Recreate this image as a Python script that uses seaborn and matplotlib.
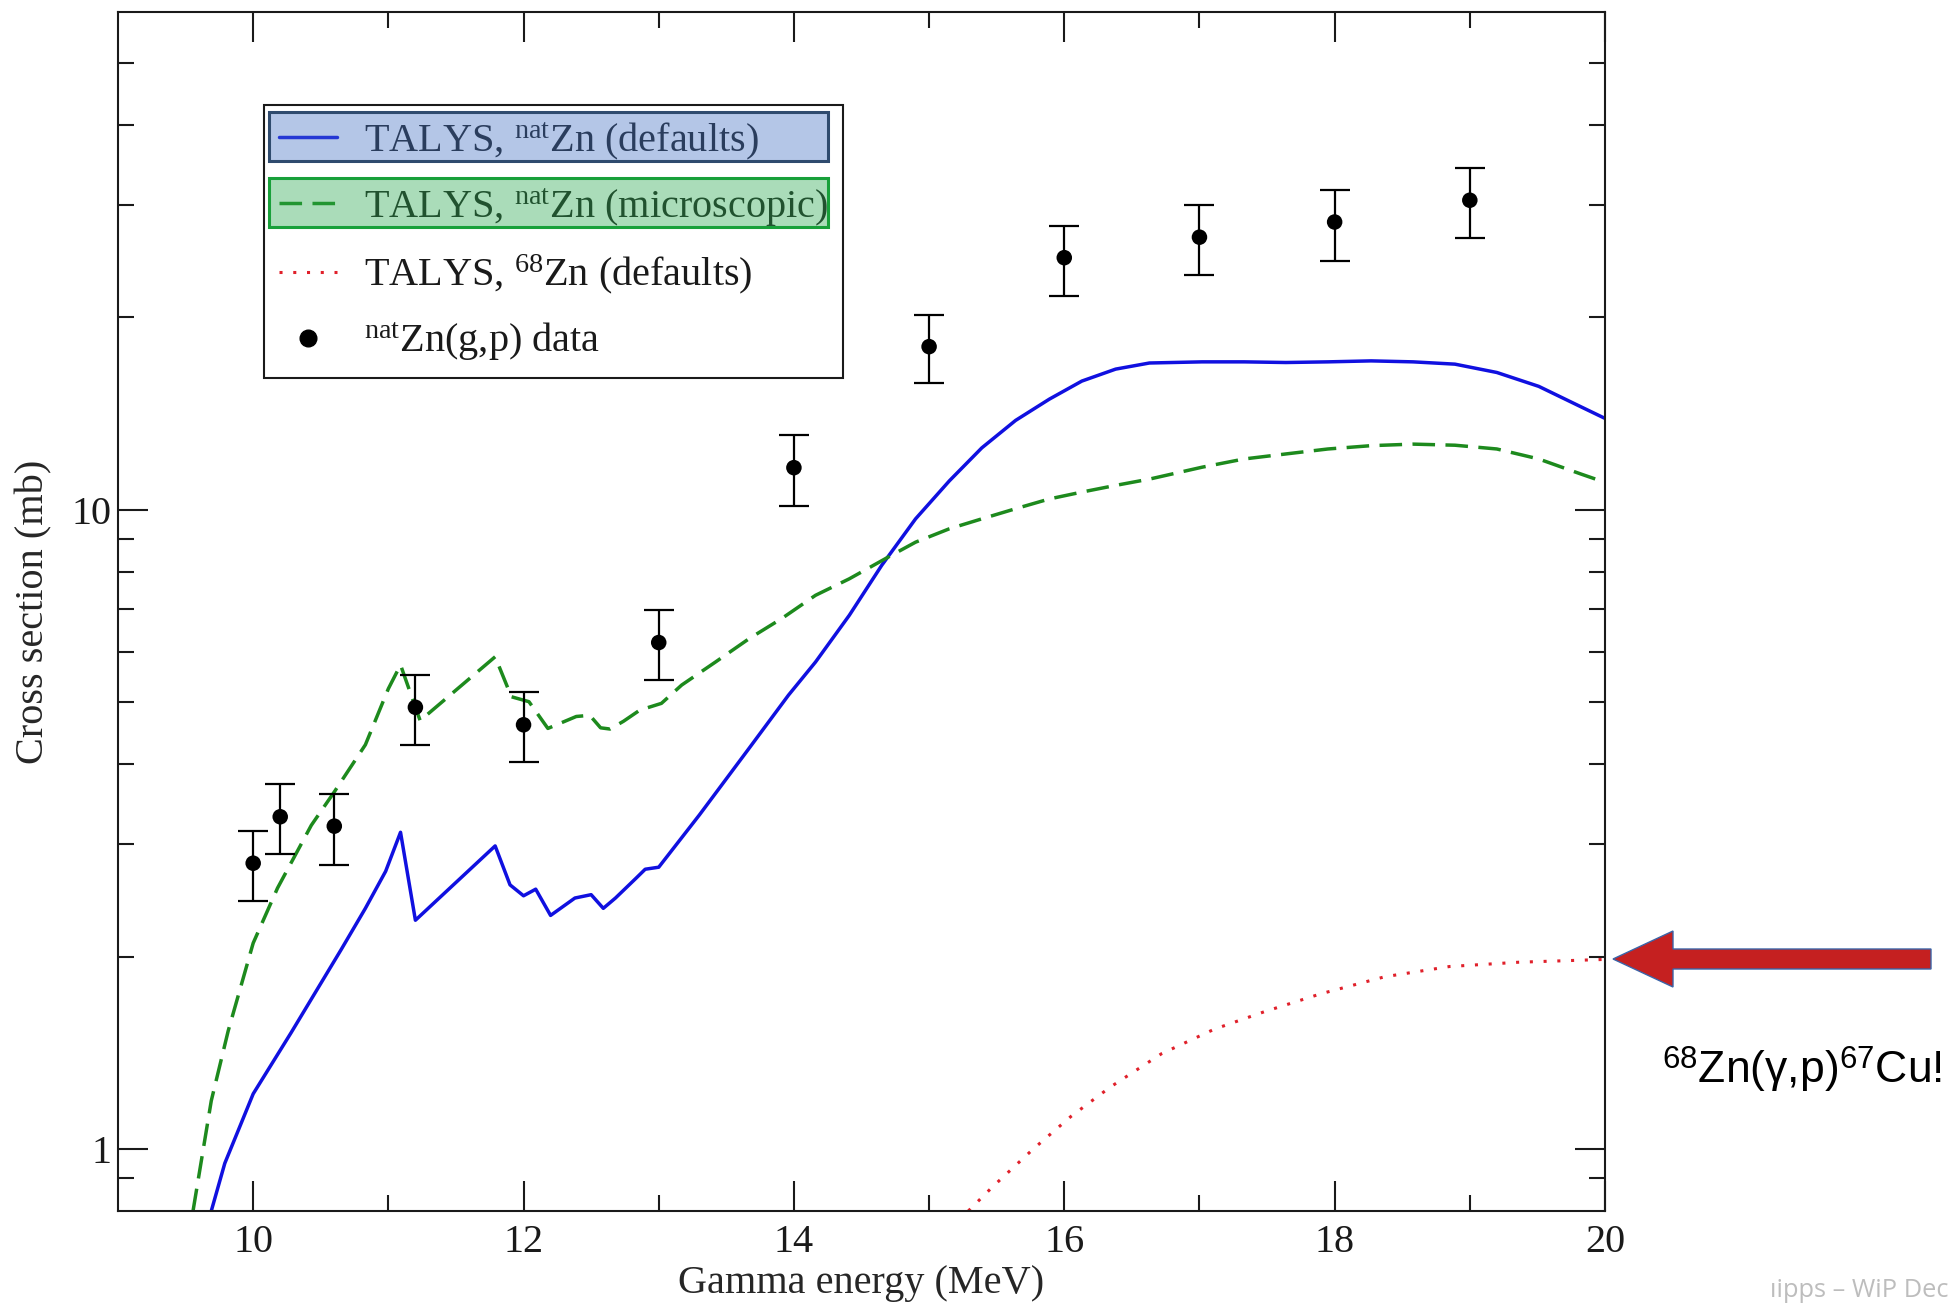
import numpy as np
import pandas as pd
import matplotlib
matplotlib.use("Agg")
import matplotlib.pyplot as plt
import seaborn as sns
from matplotlib.lines import Line2D
from matplotlib.patches import Rectangle, Polygon
from matplotlib.ticker import NullFormatter

# ---------------- data ----------------
blue_E = [9.69, 9.79, 9.89, 10.0, 10.28, 10.65, 10.83, 10.98, 11.09, 11.20, 11.79,
          11.90, 12.0, 12.09, 12.20, 12.38, 12.50, 12.59, 12.68, 12.83, 12.90, 13.0,
          13.30, 13.67, 13.96, 14.16, 14.41, 14.65, 14.90, 15.15, 15.39, 15.64, 15.89,
          16.13, 16.38, 16.63, 17.02, 17.33, 17.64, 17.95, 18.27, 18.58, 18.89, 19.20,
          19.51, 19.82, 20.0]
blue_xs = [0.80, 0.95, 1.07, 1.22, 1.52, 2.05, 2.38, 2.72, 3.13, 2.28, 2.98,
           2.59, 2.49, 2.55, 2.32, 2.47, 2.50, 2.38, 2.47, 2.65, 2.74, 2.76,
           3.33, 4.24, 5.13, 5.78, 6.84, 8.19, 9.68, 11.1, 12.5, 13.8, 14.9,
           15.9, 16.6, 16.97, 17.04, 17.04, 17.0, 17.04, 17.1, 17.04, 16.9, 16.4,
           15.6, 14.5, 13.9]

green_E = [9.555, 9.69, 9.815, 10.0, 10.18, 10.43, 10.60, 10.83, 11.00, 11.09, 11.235,
           11.79, 11.91, 12.04, 12.18, 12.39, 12.49, 12.57, 12.64, 12.74, 12.86, 13.02,
           13.17, 13.42, 13.67, 13.91, 14.16, 14.41, 14.70, 14.90, 15.15, 15.39, 15.64,
           15.89, 16.13, 16.38, 16.63, 17.02, 17.33, 17.64, 17.95, 18.27, 18.58, 18.89,
           19.20, 19.51, 19.82, 20.0]
green_xs = [0.80, 1.19, 1.53, 2.10, 2.56, 3.21, 3.62, 4.29, 5.25, 5.72, 4.68,
            5.89, 5.10, 5.01, 4.55, 4.75, 4.77, 4.56, 4.54, 4.67, 4.86, 4.98,
            5.32, 5.78, 6.29, 6.76, 7.35, 7.80, 8.44, 8.90, 9.34, 9.68, 10.04,
            10.4, 10.66, 10.92, 11.17, 11.66, 12.01, 12.23, 12.45, 12.60, 12.67, 12.62,
            12.45, 12.01, 11.38, 11.04]

red_E = [15.29, 15.47, 15.77, 16.05, 16.34, 16.72, 17.11, 17.48, 17.90, 18.37, 18.85, 19.36, 20.0]
red_xs = [0.80, 0.873, 1.00, 1.125, 1.25, 1.41, 1.54, 1.64, 1.75, 1.86, 1.93, 1.96, 1.98]

data_E = [10.0, 10.2, 10.6, 11.2, 12.0, 13.0, 14.0, 15.0, 16.0, 17.0, 18.0, 19.0]
data_xs = [2.80, 3.31, 3.20, 4.91, 4.61, 6.20, 11.64, 18.0, 24.8, 26.7, 28.2, 30.5]
data_hi = [3.14, 3.72, 3.59, 5.52, 5.19, 6.96, 13.1, 20.2, 27.8, 30.0, 31.7, 34.3]
data_lo = [2.44, 2.89, 2.78, 4.28, 4.03, 5.42, 10.13, 15.8, 21.6, 23.3, 24.5, 26.6]

x_major = [10, 12, 14, 16, 18, 20]
x_minor = [11, 13, 15, 17, 19]
y_major = [1, 10]
y_major_labels = ["1", "10"]
y_minor = [0.9, 2, 3, 4, 5, 6, 7, 8, 9, 20, 30, 40, 50]

legend_labels = [
    r"TALYS, $^{\mathrm{nat}}$Zn (defaults)",
    r"TALYS, $^{\mathrm{nat}}$Zn (microscopic)",
    r"TALYS, $^{\mathrm{68}}$Zn (defaults)",
    r"$^{\mathrm{nat}}$Zn(g,p) data",
]
x_label = "Gamma energy (MeV)"
y_label = "Cross section (mb)"
note_text = r"$^{\mathsf{68}}$Zn(γ,p)$^{\mathsf{67}}$Cu!"
footer_text = "ıipps – WiP Dec"

# ---------------- style ----------------
sns.set_theme(style="ticks")
plt.rcParams.update({
    "font.family": ["Liberation Serif", "DejaVu Serif"],
    "mathtext.fontset": "custom",
    "mathtext.rm": "Liberation Serif",
    "mathtext.it": "Liberation Serif:italic",
    "mathtext.bf": "Liberation Serif:bold",
    "mathtext.sf": "Liberation Sans",
    "axes.linewidth": 1.5,
    "axes.edgecolor": "#1a1a1a",
    "text.color": "#1a1a1a",
})

FS = 29
BLUE = "#1010e0"
GREEN = "#1d8a1d"
RED = "#e0202a"

W, H = 1951, 1307
fig = plt.figure(figsize=(W / 100, H / 100), dpi=100)
fig.patch.set_facecolor("white")
ax = fig.add_axes([118 / W, 1 - 1211 / H, (1605 - 118) / W, (1211 - 12.4) / H])

df_blue = pd.DataFrame({"E": blue_E, "xs": blue_xs})
df_green = pd.DataFrame({"E": green_E, "xs": green_xs})
df_red = pd.DataFrame({"E": red_E, "xs": red_xs})
df_data = pd.DataFrame({"E": data_E, "xs": data_xs})

sns.lineplot(data=df_blue, x="E", y="xs", ax=ax, color=BLUE, lw=2.5,
             sort=False, estimator=None)
sns.lineplot(data=df_green, x="E", y="xs", ax=ax, color=GREEN, lw=2.5,
             linestyle=(0, (6.5, 3.0)), sort=False, estimator=None)
sns.lineplot(data=df_red, x="E", y="xs", ax=ax, color=RED, lw=2.2,
             linestyle=(0, (1, 3.5)), sort=False, estimator=None)

yerr = [np.array(data_xs) - np.array(data_lo), np.array(data_hi) - np.array(data_xs)]
ax.errorbar(data_E, data_xs, yerr=yerr, fmt="none", ecolor="black",
            elinewidth=1.6, capsize=11, capthick=1.6, zorder=4)
sns.scatterplot(data=df_data, x="E", y="xs", ax=ax, color="black", s=125,
                edgecolor="none", zorder=5)

ax.set_yscale("log")
ax.set_xlim(9, 20)
ax.set_ylim(0.8, 60)
ax.set_xticks(x_major)
ax.set_xticks(x_minor, minor=True)
ax.set_yticks(y_major, labels=y_major_labels)
ax.set_yticks(y_minor, minor=True)
ax.yaxis.set_minor_formatter(NullFormatter())
ax.tick_params(which="both", direction="in", top=True, right=True,
               color="#1a1a1a", labelsize=FS, labelcolor="#1a1a1a")
ax.tick_params(which="major", length=21.6, width=1.5)
ax.tick_params(axis="x", which="major", pad=9)
ax.tick_params(axis="y", which="major", pad=5)
ax.tick_params(which="minor", length=11.5, width=1.5)
for s in ax.spines.values():
    s.set_visible(True)
    s.set_linewidth(1.5)

ax.set_xlabel(x_label, fontsize=FS)
ax.set_ylabel(y_label, fontsize=FS)
ax.xaxis.set_label_coords(0.5, -0.045)
ax.yaxis.set_label_coords(-0.0440, 0.5)

# ---------------- legend ----------------
handles = [
    Line2D([], [], color=BLUE, lw=2.5),
    Line2D([], [], color=GREEN, lw=2.5, linestyle=(0, (6.5, 3.0))),
    Line2D([], [], color=RED, lw=2.2, linestyle=(0, (1, 3.5))),
    Line2D([], [], color="black", marker="o", markersize=12, linestyle="none"),
]
leg = ax.legend(handles, legend_labels, loc="upper left",
                bbox_to_anchor=(0.0979, 0.9227), borderaxespad=0,
                fontsize=FS, frameon=True, fancybox=False, framealpha=1,
                edgecolor="#1a1a1a", facecolor="white",
                handlelength=1.45, handletextpad=0.66, borderpad=0.38,
                labelspacing=0.60)
leg.get_frame().set_linewidth(1.5)

fig.canvas.draw()
rend = fig.canvas.get_renderer()
fb = leg.get_frame().get_window_extent(rend)
inv = fig.transFigure.inverted()
leg_lines = leg.get_lines()
highlight = [((68 / 255, 114 / 255, 196 / 255, 0.40), "#2f4b6e"),
             ((44 / 255, 168 / 255, 80 / 255, 0.40), "#18a03a")]
for i, (fc, ec) in enumerate(highlight):
    hb = leg_lines[i].get_window_extent(rend)
    yc = (hb.y0 + hb.y1) / 2 + 1
    x0 = fb.x0 + 5.5
    x1 = fb.x0 + fb.width * (567.5 / 582.5)
    (fx0, fy0) = inv.transform((x0, yc - 24.5))
    (fx1, fy1) = inv.transform((x1, yc + 24.5))
    rect = Rectangle((fx0, fy0), fx1 - fx0, fy1 - fy0, transform=fig.transFigure,
                     facecolor=fc, edgecolor=ec, lw=2.2, zorder=10)
    fig.add_artist(rect)

# ---------------- arrow pointing at the 68Zn curve end ----------------
tx, ty = ax.transData.transform((red_E[-1], red_xs[-1]))
tx += 8
ty = H - 959  # arrow axis height in pixels (display coords, y up)
verts_px = [(tx, ty), (tx + 60, ty + 28), (tx + 60, ty + 10), (1931, ty + 10),
            (1931, ty - 10), (tx + 60, ty - 10), (tx + 60, ty - 28)]
verts = inv.transform(verts_px)
fig.add_artist(Polygon(verts, closed=True, transform=fig.transFigure,
                       facecolor="#c52020", edgecolor="#3b64a8", lw=1.0, zorder=10))

fig.text(1662 / W, 1 - 1083 / H, note_text, fontsize=32, family="Liberation Sans",
         color="black", ha="left", va="baseline")
fig.text(1948 / W, 1 - 1297 / H, footer_text, fontsize=18.3, family="Open Sans",
         color="#bdbdbd", ha="right", va="baseline")

fig.savefig("out.png", dpi=100, facecolor="white")
